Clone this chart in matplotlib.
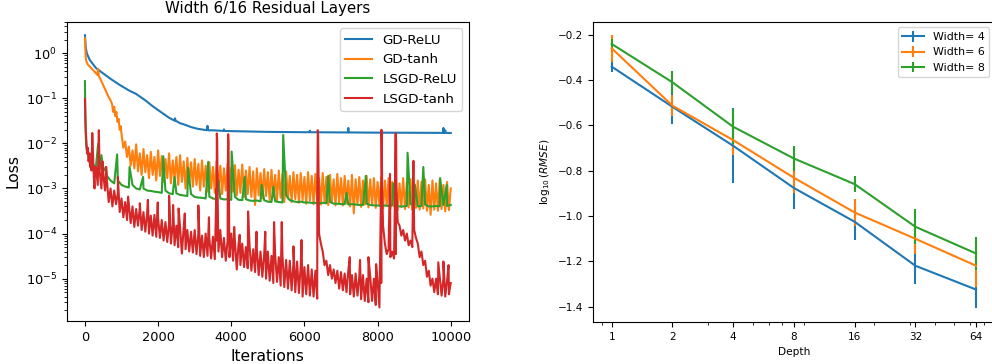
import numpy as np
import matplotlib
matplotlib.use("Agg")
import matplotlib.pyplot as plt
from matplotlib.ticker import NullFormatter

# ---------------- left panel: training loss ----------------
# GD-ReLU (smooth curve + a few tiny bumps)
blue_iters = [0, 20, 50, 130, 300, 490, 700, 950, 1200, 1400, 1650, 1860, 2100,
              2300, 2450, 2600, 2730, 2900, 3090, 3500, 4000, 5000, 6000, 7000,
              8000, 9000, 10000]
blue_loss = [2.5, 1.4, 1.0, 0.71, 0.47, 0.36, 0.27, 0.198, 0.15, 0.125, 0.09,
             0.066, 0.048, 0.037, 0.032, 0.028, 0.026, 0.023, 0.021, 0.0195,
             0.0187, 0.018, 0.0177, 0.0175, 0.0173, 0.0172, 0.017]
blue_spike_iters = [2440, 2460, 2480, 3330, 3350, 3370, 3790, 3800, 3810,
                    6140, 6150, 6160, 7190, 7200, 7210, 9790, 9800, 9810,
                    9840, 9850, 9860]
blue_spike_loss = [0.0322, 0.036, 0.0318, 0.0196, 0.0245, 0.0195, 0.0189, 0.0205, 0.0189,
                   0.0177, 0.0192, 0.0177, 0.0175, 0.022, 0.0175, 0.0171, 0.022, 0.0171,
                   0.0171, 0.0195, 0.0171]

# GD-tanh
orange_head_iters = [0, 10, 20, 40, 80, 120, 160, 200, 250, 300, 340, 360, 380,
                     420, 470, 520, 580, 640, 700, 740, 770, 800, 830, 860, 890,
                     920, 950, 980]
orange_head_loss = [2.15, 1.3, 0.84, 0.65, 0.56, 0.52, 0.48, 0.44, 0.40, 0.36,
                    0.33, 0.45, 0.31, 0.27, 0.22, 0.18, 0.14, 0.11, 0.09, 0.075,
                    0.05, 0.065, 0.04, 0.05, 0.03, 0.035, 0.02, 0.024]
orange_peak_iters = np.arange(1000, 10001, 100)
orange_peaks = [
    1.6e-2, 1.1e-2, 8.5e-3, 7.0e-3, 9.5e-3, 6.0e-3, 7.5e-3, 5.5e-3, 6.5e-3, 5.0e-3,
    7.0e-3, 5.2e-3, 4.5e-3, 6.0e-3, 4.2e-3, 5.0e-3, 5.5e-3, 4.0e-3, 4.8e-3, 3.8e-3,
    4.5e-3, 3.5e-3, 4.2e-3, 3.2e-3, 3.8e-3, 3.0e-3, 4.0e-3, 3.2e-3, 2.8e-3, 3.6e-3,
    2.9e-3, 3.3e-3, 2.6e-3, 3.4e-3, 2.5e-3, 3.0e-3, 2.4e-3, 2.8e-3, 2.2e-3, 2.7e-3,
    2.3e-3, 2.6e-3, 2.0e-3, 2.5e-3, 2.1e-3, 2.4e-3, 1.9e-3, 2.3e-3, 2.0e-3, 2.2e-3,
    1.8e-3, 2.3e-3, 1.9e-3, 2.1e-3, 1.7e-3, 2.2e-3, 1.8e-3, 2.0e-3, 1.6e-3, 2.1e-3,
    1.7e-3, 1.9e-3, 1.5e-3, 2.0e-3, 1.6e-3, 1.8e-3, 1.5e-3, 1.9e-3, 1.6e-3, 1.7e-3,
    1.4e-3, 1.8e-3, 1.5e-3, 1.7e-3, 1.4e-3, 1.6e-3, 1.3e-3, 1.7e-3, 1.4e-3, 1.6e-3,
    1.3e-3, 1.5e-3, 1.4e-3, 1.6e-3, 1.2e-3, 1.5e-3, 1.3e-3, 1.6e-3, 1.2e-3, 1.4e-3,
    1.0e-3]
orange_dip_iters = np.arange(1050, 10000, 100)
orange_dips = [
    8e-3, 5e-3, 3.2e-3, 2.8e-3, 2.4e-3, 2.0e-3, 2.3e-3, 1.7e-3, 2.0e-3, 1.5e-3,
    1.9e-3, 1.4e-3, 1.7e-3, 1.3e-3, 1.6e-3, 1.2e-3, 1.4e-3, 1.0e-3, 1.3e-3, 1.1e-3,
    1.2e-3, 9e-4, 1.1e-3, 8.5e-4, 1.0e-3, 8e-4, 9.5e-4, 7.5e-4, 9e-4, 8e-4,
    8.5e-4, 7e-4, 8e-4, 6.5e-4, 7.5e-4, 6.5e-4, 4.3e-4, 7e-4, 6e-4, 6.8e-4,
    5.5e-4, 6.5e-4, 5.5e-4, 6.2e-4, 5e-4, 6e-4, 5e-4, 5.8e-4, 4.8e-4, 5.5e-4,
    4.6e-4, 5.4e-4, 4.5e-4, 5.2e-4, 4.4e-4, 5e-4, 4.3e-4, 4.9e-4, 4.2e-4, 4.8e-4,
    4.2e-4, 4.6e-4, 4e-4, 2.8e-4, 4.4e-4, 3.9e-4, 4.4e-4, 3.8e-4, 4.3e-4, 3.7e-4,
    4.2e-4, 3.6e-4, 4.1e-4, 3.5e-4, 4e-4, 3.3e-4, 3.9e-4, 3.5e-4, 3.8e-4, 3.3e-4,
    3.7e-4, 3.4e-4, 3.6e-4, 3.2e-4, 2.6e-4, 3.4e-4, 3.2e-4, 3.5e-4, 3.1e-4, 3.3e-4]

# LSGD-ReLU
green_head_iters = [0, 5, 10, 20, 30, 50, 70]
green_head_loss = [0.24, 0.1, 0.04, 0.02, 0.01, 0.007, 0.006]
green_base_iters = np.arange(100, 10001, 100)
green_base = [
    5e-3, 3.5e-3, 3.0e-3, 2.6e-3, 2.4e-3, 1.9e-3, 1.5e-3, 1.3e-3, 1.5e-3, 1.2e-3,
    1.1e-3, 1.05e-3, 1.2e-3, 1.0e-3, 9.5e-4, 1.0e-3, 9e-4, 8.8e-4, 8.5e-4, 8.3e-4,
    8e-4, 9e-4, 7.8e-4, 7.5e-4, 7.8e-4, 7.2e-4, 7e-4, 6.8e-4, 7.5e-4, 6.5e-4,
    6.3e-4, 6.2e-4, 6e-4, 6.6e-4, 6e-4, 5.8e-4, 6e-4, 5.7e-4, 5.8e-4, 5.6e-4,
    6.5e-4, 5.6e-4, 5.5e-4, 5.8e-4, 5.4e-4, 5.3e-4, 5.4e-4, 5.2e-4, 5.5e-4, 5.1e-4,
    5e-4, 5.2e-4, 5e-4, 4.9e-4, 7e-4, 5.5e-4, 5.2e-4, 5e-4, 5.1e-4, 4.9e-4,
    4.9e-4, 4.8e-4, 4.8e-4, 4.7e-4, 4.8e-4, 4.7e-4, 5e-4, 4.6e-4, 4.6e-4, 4.5e-4,
    4.5e-4, 4.4e-4, 4.5e-4, 4.4e-4, 4.3e-4, 4.3e-4, 4.6e-4, 4.3e-4, 4.2e-4, 4.2e-4,
    4.1e-4, 4.2e-4, 4.1e-4, 4.2e-4, 4.1e-4, 4.0e-4, 4.0e-4, 4.1e-4, 4.5e-4, 4.2e-4,
    4.0e-4, 4.1e-4, 4.4e-4, 4.0e-4, 4.0e-4, 4.1e-4, 4.0e-4, 4.3e-4, 4.1e-4, 4.3e-4]
green_spike_iters = [170, 360, 450, 570, 880, 1220, 1590, 2140, 2450, 2820, 3370,
                     3650, 4010, 4370, 4830, 5150, 5420, 6650, 7150, 7680, 8430,
                     8820, 9020, 9250, 9710, 9890]
green_spike_loss = [6e-3, 9.8e-3, 5.5e-3, 3e-3, 5.7e-3, 3e-3, 1.8e-3, 5.2e-3,
                    1.8e-3, 2.9e-3, 3.9e-3, 1.5e-3, 6.6e-3, 1.8e-3, 1.2e-3, 1.1e-3,
                    1.54e-2, 1.9e-3, 8e-4, 1.9e-3, 1.3e-3, 6.2e-3, 1.2e-3, 3e-3,
                    1.7e-3, 1.2e-3]

# LSGD-tanh
red_head_iters = [0, 10, 20, 40, 60, 80, 100, 120, 140, 160, 180, 240, 260, 280]
red_head_loss = [0.097, 0.04, 0.02, 0.011, 0.006, 0.008, 0.004, 0.006, 0.003,
                 0.0045, 0.0025, 0.002, 0.001, 0.003]
red_peak_iters = np.arange(300, 10001, 100)
red_peaks = [
    3.0e-3, 2.5e-3, 2.0e-3, 1.5e-3, 1.0e-3, 9e-4, 8e-4, 6e-4, 5e-4, 4.5e-4,
    4e-4, 3.5e-4, 3.8e-4, 3e-4, 2.8e-4, 2.5e-4, 2.6e-4, 2.2e-4, 2e-4, 1.8e-4,
    1.7e-4, 1.6e-4, 1.5e-4, 1.4e-4, 1.4e-4, 1.2e-4, 1.1e-4, 1.2e-4, 1.0e-4, 9e-5,
    1.0e-4, 8e-5, 8.5e-5, 7e-5, 1.2e-4, 8e-5, 7e-5, 1.0e-4, 7e-5, 6e-5,
    6e-5, 5e-5, 5.5e-5, 4.5e-5, 4.5e-5, 4e-5, 3.5e-5, 4e-5, 3.2e-5, 3.5e-5,
    3e-5, 3.2e-5, 2.6e-5, 2.5e-5, 2.2e-5, 2.4e-5, 2e-5, 1.8e-5, 2e-5, 1.6e-5,
    1.5e-5, 1.0e-4, 4e-5, 2.5e-5, 2e-5, 1.6e-5, 1.5e-5, 1.4e-5, 1.3e-5, 1.5e-5,
    1.2e-5, 1.3e-5, 1.1e-5, 1.2e-5, 1.0e-5, 1.1e-5, 1.0e-5, 9e-6, 8e-6, 6e-5,
    4.5e-5, 4e-5, 3.5e-5, 1.5e-4, 1.2e-4, 1.0e-4, 7e-5, 1.2e-4, 6e-5, 4e-5,
    2.5e-5, 1.5e-5, 1.0e-5, 1.0e-5, 1.1e-5, 1.0e-5, 9e-6, 8e-6]
red_dip_iters = np.arange(350, 10000, 100)
red_dips = [
    1.2e-3, 1.0e-3, 9e-4, 5e-4, 4e-4, 4.5e-4, 3e-4, 2.3e-4, 2e-4, 1.7e-4,
    1.4e-4, 1.5e-4, 1.2e-4, 1.1e-4, 1.0e-4, 9e-5, 8.5e-5, 8e-5, 7e-5, 6.5e-5,
    6e-5, 5.5e-5, 5e-5, 3.6e-5, 4.5e-5, 4e-5, 3.8e-5, 3.5e-5, 3.2e-5, 3e-5,
    3.2e-5, 2.8e-5, 2.7e-5, 4e-5, 3e-5, 2.5e-5, 3e-5, 2.5e-5, 1.6e-5, 2e-5,
    1.8e-5, 1.7e-5, 1.5e-5, 1.4e-5, 1.2e-5, 1.1e-5, 1e-5, 9e-6, 8e-6, 8.5e-6,
    7e-6, 6.5e-6, 6e-6, 5.5e-6, 5e-6, 4.8e-6, 4e-6, 4.5e-6, 4.2e-6, 4e-6,
    3.6e-6, 6e-5, 2e-5, 1.2e-5, 1e-5, 8e-6, 6e-6, 5.5e-6, 5e-6, 4.5e-6,
    4e-6, 4.2e-6, 3.5e-6, 3.2e-6, 3e-6, 3.2e-6, 2.6e-6, 2.3e-6, 1.5e-4, 3.5e-5,
    3e-5, 2.8e-5, 1.8e-4, 9e-5, 7e-5, 5.5e-5, 5e-5, 8e-5, 3e-5, 2e-5,
    1.1e-5, 7e-6, 5e-6, 4.5e-6, 4.2e-6, 4e-6, 4.5e-6]
red_spike_iters = [200, 380, 480, 580, 900, 1180, 1500, 1720, 1990, 2300, 2410,
                   2560, 2730, 3100, 3390,
                   3595, 3605, 3615, 3630, 3905, 3915, 3925, 3940,
                   4080, 4230, 4460, 4690, 4930, 5170, 5380, 5700, 5920,
                   6355, 6365, 6375, 6385,
                   7240, 7520, 7750, 7960,
                   8095, 8105, 8115, 8125, 8340, 8485, 8495, 8505, 8515,
                   8980, 9660, 9800, 9940]
red_spike_loss = [0.017, 0.0196, 0.004, 0.003, 0.0018, 6.6e-4, 4.7e-4, 5.6e-4,
                  4.9e-4, 6.9e-4, 4.3e-4, 3.6e-4, 2.8e-4, 4.2e-4, 2.3e-4,
                  1e-3, 0.0166, 0.012, 5e-4, 2e-3, 0.016, 0.01, 3e-4,
                  1.4e-4, 9.4e-5, 3.1e-4, 1.1e-4, 1.1e-4, 1.8e-4, 1.8e-4, 5.2e-5,
                  7.2e-5,
                  2e-3, 0.0196, 0.015, 3e-3,
                  3e-5, 2.6e-5, 3e-5, 2.1e-5,
                  1e-3, 0.02, 0.012, 1e-3, 2.1e-3, 2e-3, 0.0166, 0.012, 1e-3,
                  4.1e-3, 2.3e-5, 2.4e-5, 2e-5]

# ---------------- right panel: error vs depth ----------------
depths = [1, 2, 4, 8, 16, 32, 64]
widths = [4, 6, 8]
rmse_mean = {
    4: [-0.341, -0.518, -0.69, -0.876, -1.025, -1.219, -1.324],
    6: [-0.26, -0.513, -0.665, -0.831, -0.984, -1.10, -1.219],
    8: [-0.241, -0.41, -0.606, -0.746, -0.859, -1.047, -1.165],
}
rmse_err = {
    4: [0.024, 0.078, 0.166, 0.093, 0.081, 0.081, 0.08],
    6: [0.059, 0.045, 0.066, 0.069, 0.058, 0.065, 0.095],
    8: [0.02, 0.051, 0.078, 0.055, 0.035, 0.078, 0.074],
}


def merge(*pairs):
    """Join (iters, values) pieces into one series sorted by iteration."""
    it = np.concatenate([np.asarray(p[0], float) for p in pairs])
    val = np.concatenate([np.asarray(p[1], float) for p in pairs])
    order = np.argsort(it, kind="stable")
    return it[order], val[order]


fig = plt.figure(figsize=(9.92, 3.64), dpi=100)

ax1 = fig.add_axes([0.0672, 0.1181, 0.4056, 0.8223])
series = [
    ("GD-ReLU", merge((blue_iters, blue_loss), (blue_spike_iters, blue_spike_loss))),
    ("GD-tanh", merge((orange_head_iters, orange_head_loss),
                      (orange_peak_iters, orange_peaks),
                      (orange_dip_iters, orange_dips))),
    ("LSGD-ReLU", merge((green_head_iters, green_head_loss),
                        (green_base_iters, green_base),
                        (green_spike_iters, green_spike_loss))),
    ("LSGD-tanh", merge((red_head_iters, red_head_loss),
                        (red_peak_iters, red_peaks),
                        (red_dip_iters, red_dips),
                        (red_spike_iters, red_spike_loss))),
]
for name, (it, loss) in series:
    ax1.plot(it, loss, lw=1.5, label=name)
ax1.set_yscale("log")
ax1.set_xlim(-500, 10500)
ax1.set_ylim(1.15e-6, 5.0)
ax1.set_xticks([0, 2000, 4000, 6000, 8000, 10000])
ax1.tick_params(labelsize=9.3)
ax1.set_xlabel("Iterations", fontsize=11.2)
ax1.set_ylabel("Loss", fontsize=11.2)
ax1.set_title("Width 6/16 Residual Layers", fontsize=10.8)
ax1.legend(loc="upper right", fontsize=9.6)

ax2 = fig.add_axes([0.5978, 0.1154, 0.405, 0.8242])
for w in widths:
    ax2.errorbar(depths, rmse_mean[w], yerr=rmse_err[w], label=f"Width= {w}")
ax2.set_xscale("log")
ax2.set_xticks(depths)
ax2.set_xticklabels([str(d) for d in depths])
ax2.xaxis.set_minor_formatter(NullFormatter())
ax2.set_xlim(0.808, 79.2)
ax2.set_ylim(-1.467, -0.144)
ax2.set_yticks([-1.4, -1.2, -1.0, -0.8, -0.6, -0.4, -0.2])
ax2.tick_params(labelsize=7.5)
ax2.set_xlabel("Depth", fontsize=7.6)
ax2.set_ylabel(r"$\log_{10}(RMSE)$", fontsize=7.6)
ax2.legend(loc="upper right", fontsize=7.9)

fig.savefig("out.png", dpi=100)
